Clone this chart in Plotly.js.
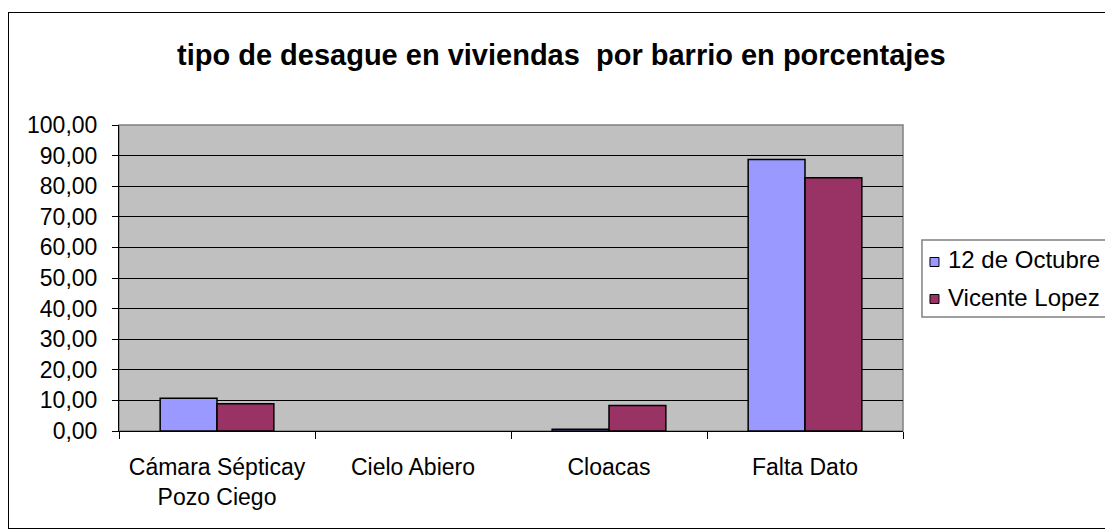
<!DOCTYPE html>
<html>
<head>
<meta charset="utf-8">
<script src="https://cdn.plot.ly/plotly-3.0.1.min.js"></script>
<style>
  html, body { margin: 0; padding: 0; background: #fff; overflow: hidden; }
  #wrap { position: relative; width: 1105px; height: 529px; }
  #chart { position: absolute; left: 0; top: 0; width: 1105px; height: 529px; }
  #frame { position: absolute; left: 8px; top: 12px; width: 1110px; height: 515px; border: 1px solid #000; pointer-events: none; }
</style>
</head>
<body>
<div id="wrap">
  <div id="chart"></div>
  <div id="frame"></div>
</div>
<script>
const categories = ["Cámara Sépticay<br>Pozo Ciego", "Cielo Abiero", "Cloacas", "Falta Dato"];
const seriesNames = ["12 de Octubre", "Vicente Lopez"];
const seriesColors = ["#9999FF", "#993366"];
const octubre = [10.7, 0, 0.6, 88.7];
const vicenteLopez = [8.9, 0, 8.3, 82.8];
const yTicks = [0, 10, 20, 30, 40, 50, 60, 70, 80, 90, 100];
const titleText = "tipo de desague en viviendas&nbsp; por barrio en porcentajes";

const font = "Arial, 'Liberation Sans', sans-serif";

function outlineWidths(vals) { return vals.map(v => v > 0 ? 1.5 : 0); }

const traces = [
  { type: "bar", name: seriesNames[0], x: categories, y: octubre,
    marker: { color: seriesColors[0], line: { color: "#000", width: outlineWidths(octubre) } } },
  { type: "bar", name: seriesNames[1], x: categories, y: vicenteLopez,
    marker: { color: seriesColors[1], line: { color: "#000", width: outlineWidths(vicenteLopez) } } }
];

// manual legend (Excel style box to the right of the plot)
const legendRowsY = [0.559, 0.437];
const legendSymY = [[0.5376, 0.567], [0.4167, 0.446]];
const legendShapes = [
  { type: "rect", xref: "paper", yref: "paper", x0: 1.0242, x1: 1.35, y0: 0.3725, y1: 0.6242,
    line: { color: "#808080", width: 1.5 }, fillcolor: "#fff" }
];
const legendAnnots = [];
seriesNames.forEach((n, i) => {
  legendShapes.push({ type: "rect", xref: "paper", yref: "paper", x0: 1.0344, x1: 1.0459,
    y0: legendSymY[i][0], y1: legendSymY[i][1], line: { color: "#000", width: 1 }, fillcolor: seriesColors[i] });
  legendAnnots.push({ xref: "paper", yref: "paper", x: 1.0545, y: legendRowsY[i], xanchor: "left", yanchor: "middle",
    text: n, showarrow: false, font: { family: font, size: 24, color: "#000" } });
});

const layout = {
  width: 1105, height: 529,
  margin: { l: 119, r: 202, t: 125, b: 98, pad: 0 },
  paper_bgcolor: "#fff",
  plot_bgcolor: "#C0C0C0",
  font: { family: font, size: 23, color: "#000" },
  separators: ",.",
  title: { text: titleText, font: { family: font, size: 29, color: "#000", weight: "bold" },
           x: 0.508, xref: "container", xanchor: "center", y: 1 - 55/529, yref: "container", yanchor: "middle" },
  barmode: "group",
  bargap: 0.42,
  bargroupgap: 0,
  showlegend: false,
  xaxis: {
    type: "category", tickson: "boundaries", ticks: "outside", ticklen: 7, tickcolor: "#000", tickwidth: 1,
    showline: true, linecolor: "#000", linewidth: 1, showgrid: false, zeroline: false,
    tickfont: { family: font, size: 23, color: "#000" }, ticklabelstandoff: 15, automargin: false
  },
  yaxis: {
    range: [0, 100], tickvals: yTicks, tickformat: ".2f", ticks: "outside", ticklen: 6,
    tickcolor: "#000", tickwidth: 1, showline: true, linecolor: "#000", linewidth: 1,
    showgrid: true, gridcolor: "#000", gridwidth: 1, zeroline: false,
    tickfont: { family: font, size: 23, color: "#000" }, ticklabelstandoff: 10, automargin: false
  },
  shapes: [
    { type: "rect", xref: "paper", yref: "paper", x0: 0, x1: 1, y0: 0, y1: 1,
      line: { color: "#808080", width: 1.5 }, layer: "below" }
  ].concat(legendShapes),
  annotations: legendAnnots
};

Plotly.newPlot("chart", traces, layout, { displayModeBar: false, staticPlot: true });
</script>
</body>
</html>
